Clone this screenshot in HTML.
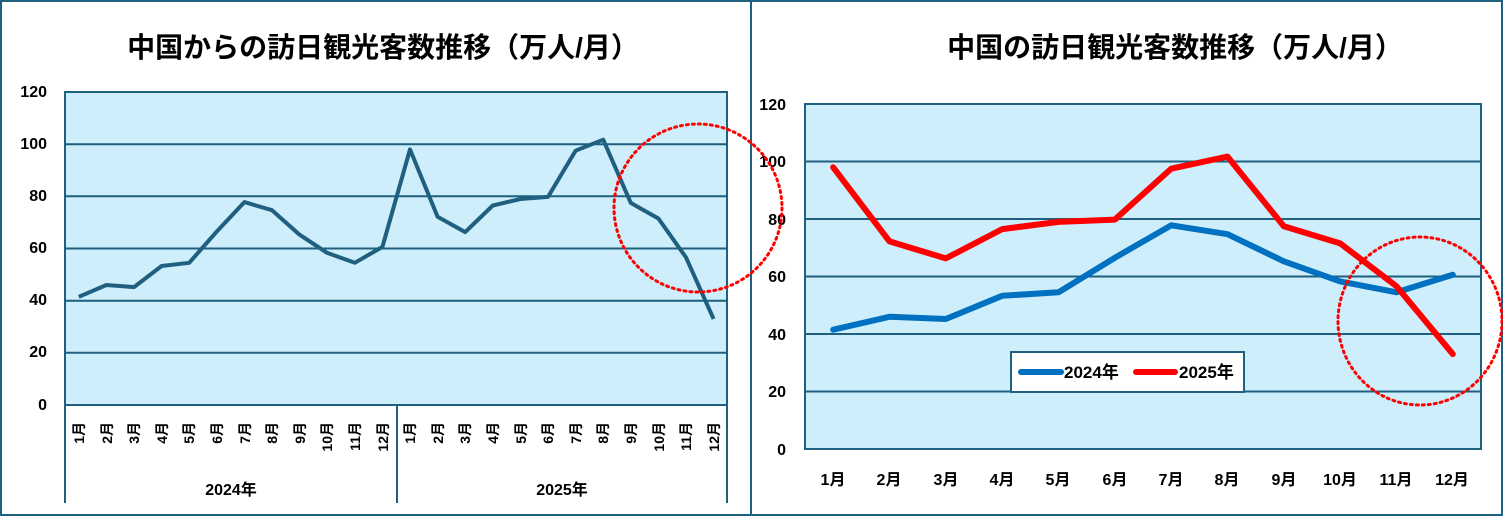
<!DOCTYPE html>
<html><head><meta charset="utf-8"><style>
html,body{margin:0;padding:0;background:#fff}
svg{display:block}
text{font-family:"Liberation Sans","Noto Sans CJK JP",sans-serif;fill:#000}
</style></head><body>
<svg width="1503" height="516" viewBox="0 0 1503 516" xmlns="http://www.w3.org/2000/svg">
<rect x="1" y="1" width="1501" height="514" fill="#fff" stroke="#1f5f7f" stroke-width="2"/>
<line x1="751" y1="0" x2="751" y2="516" stroke="#1f5f7f" stroke-width="2"/>

<!-- LEFT -->
<text x="383" y="57" font-size="28" font-weight="bold" text-anchor="middle">中国からの訪日観光客数推移（万人/月）</text>
<rect x="65" y="92" width="662" height="313" fill="#cdeefa" stroke="#1f5f7f" stroke-width="2"/>
<g stroke="#1f5f7f" stroke-width="2">
<line x1="65" y1="352.8" x2="727" y2="352.8"/><line x1="65" y1="300.7" x2="727" y2="300.7"/>
<line x1="65" y1="248.5" x2="727" y2="248.5"/><line x1="65" y1="196.3" x2="727" y2="196.3"/>
<line x1="65" y1="144.2" x2="727" y2="144.2"/>
<line x1="65" y1="405" x2="65" y2="503"/><line x1="397" y1="405" x2="397" y2="503"/><line x1="727" y1="405" x2="727" y2="503"/>
</g>
<g font-size="16" font-weight="bold" text-anchor="end">
<text x="47" y="97">120</text><text x="47" y="149">100</text><text x="47" y="201">80</text>
<text x="47" y="253">60</text><text x="47" y="305">40</text><text x="47" y="357">20</text><text x="47" y="410">0</text>
</g>
<polyline fill="none" stroke="#1f5f7f" stroke-width="4" stroke-linejoin="round" points="78.8,296.8 106.4,285 134,287.1 161.6,266 189.2,262.8 216.8,231.5 244.4,202.1 272,210.2 299.6,234.7 327.2,252.9 354.8,262.8 382.4,246.9 410,149.4 437.6,216.7 465.2,232.1 492.8,205.5 520.4,199 548,196.9 575.6,150.7 603.2,139.7 630.8,202.9 658.4,218.5 686,257.4 713.6,318.9"/>
<g font-size="14" font-weight="bold" text-anchor="end">
<text transform="translate(84,422) rotate(-90)">1月</text>
<text transform="translate(112,422) rotate(-90)">2月</text>
<text transform="translate(139,422) rotate(-90)">3月</text>
<text transform="translate(167,422) rotate(-90)">4月</text>
<text transform="translate(194,422) rotate(-90)">5月</text>
<text transform="translate(222,422) rotate(-90)">6月</text>
<text transform="translate(250,422) rotate(-90)">7月</text>
<text transform="translate(277,422) rotate(-90)">8月</text>
<text transform="translate(305,422) rotate(-90)">9月</text>
<text transform="translate(332,422) rotate(-90)">10月</text>
<text transform="translate(360,422) rotate(-90)">11月</text>
<text transform="translate(388,422) rotate(-90)">12月</text>
<text transform="translate(415,422) rotate(-90)">1月</text>
<text transform="translate(443,422) rotate(-90)">2月</text>
<text transform="translate(470,422) rotate(-90)">3月</text>
<text transform="translate(498,422) rotate(-90)">4月</text>
<text transform="translate(526,422) rotate(-90)">5月</text>
<text transform="translate(553,422) rotate(-90)">6月</text>
<text transform="translate(581,422) rotate(-90)">7月</text>
<text transform="translate(608,422) rotate(-90)">8月</text>
<text transform="translate(636,422) rotate(-90)">9月</text>
<text transform="translate(664,422) rotate(-90)">10月</text>
<text transform="translate(691,422) rotate(-90)">11月</text>
<text transform="translate(719,422) rotate(-90)">12月</text>
</g>
<g font-size="16" font-weight="bold" text-anchor="middle">
<text x="231" y="495">2024年</text><text x="562" y="495">2025年</text>
</g>

<!-- RIGHT -->
<text x="1175" y="57" font-size="28" font-weight="bold" text-anchor="middle">中国の訪日観光客数推移（万人/月）</text>
<rect x="805" y="104" width="676" height="345" fill="#cdeefa" stroke="#1f5f7f" stroke-width="2"/>
<g stroke="#1f5f7f" stroke-width="2">
<line x1="805" y1="161.5" x2="1481" y2="161.5"/><line x1="805" y1="219" x2="1481" y2="219"/>
<line x1="805" y1="276.5" x2="1481" y2="276.5"/><line x1="805" y1="334" x2="1481" y2="334"/>
<line x1="805" y1="391.5" x2="1481" y2="391.5"/>
</g>
<g font-size="16" font-weight="bold" text-anchor="end">
<text x="786" y="110">120</text><text x="786" y="167">100</text><text x="786" y="225">80</text>
<text x="786" y="282">60</text><text x="786" y="340">40</text><text x="786" y="397">20</text><text x="786" y="455">0</text>
</g>
<polyline fill="none" stroke="#0070c0" stroke-width="6" stroke-linejoin="round" stroke-linecap="round" points="833.2,329.7 889.5,316.8 945.8,319 1002.2,295.8 1058.5,292.3 1114.8,257.8 1171.2,225.3 1227.5,234.2 1283.8,261.3 1340.2,281.4 1396.5,292.3 1452.8,274.8"/>
<polyline fill="none" stroke="#ff0000" stroke-width="6" stroke-linejoin="round" stroke-linecap="round" points="833.2,167.3 889.5,241.4 945.8,258.4 1002.2,229.1 1058.5,221.9 1114.8,219.6 1171.2,168.7 1227.5,156.6 1283.8,226.2 1340.2,243.4 1396.5,286.3 1452.8,354.1"/>
<rect x="1011" y="352" width="233" height="40" fill="#fff" stroke="#1f5f7f" stroke-width="2"/>
<line x1="1021" y1="372" x2="1061" y2="372" stroke="#0070c0" stroke-width="6" stroke-linecap="round"/>
<line x1="1136" y1="372" x2="1175" y2="372" stroke="#ff0000" stroke-width="6" stroke-linecap="round"/>
<g font-size="17" font-weight="bold"><text x="1064" y="378">2024年</text><text x="1179" y="378">2025年</text></g>
<g font-size="16" font-weight="bold" text-anchor="middle">
<text x="833" y="485">1月</text><text x="889" y="485">2月</text><text x="946" y="485">3月</text>
<text x="1002" y="485">4月</text><text x="1058" y="485">5月</text><text x="1115" y="485">6月</text>
<text x="1171" y="485">7月</text><text x="1227" y="485">8月</text><text x="1284" y="485">9月</text>
<text x="1340" y="485">10月</text><text x="1396" y="485">11月</text><text x="1452" y="485">12月</text>
</g>

<!-- circles -->
<g fill="none" stroke="#ff0000" stroke-width="3" stroke-dasharray="2,4" stroke-linecap="round">
<ellipse cx="698" cy="208" rx="84" ry="84"/>
<ellipse cx="1420" cy="321" rx="82" ry="84"/>
</g>
</svg>
</body></html>
